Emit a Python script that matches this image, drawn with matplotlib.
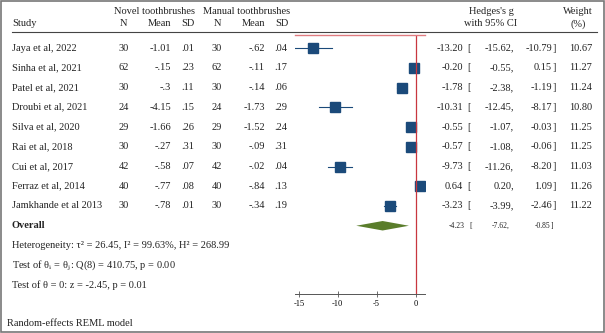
import matplotlib
matplotlib.use("Agg")
import matplotlib.pyplot as plt
import matplotlib.transforms as mtransforms
from matplotlib.lines import Line2D
from matplotlib.patches import Rectangle, Polygon
import numpy as np

plt.rcParams['font.family'] = ['Liberation Serif', 'DejaVu Serif']
plt.rcParams['mathtext.fontset'] = 'stix'

studies = ["Jaya et al, 2022", "Sinha et al, 2021", "Patel et al, 2021", "Droubi et al, 2021",
           "Silva et al, 2020", "Rai et al, 2018", "Cui et al, 2017", "Ferraz et al, 2014",
           "Jamkhande et al 2013"]
n_novel = [30, 62, 30, 24, 29, 30, 42, 40, 30]
mean_novel = ["-1.01", "-.15", "-.3", "-4.15", "-1.66", "-.27", "-.58", "-.77", "-.78"]
sd_novel = [".01", ".23", ".11", ".15", ".26", ".31", ".07", ".08", ".01"]
n_manual = [30, 62, 30, 24, 29, 30, 42, 40, 30]
mean_manual = ["-.62", "-.11", "-.14", "-1.73", "-1.52", "-.09", "-.02", "-.84", "-.34"]
sd_manual = [".04", ".17", ".06", ".29", ".24", ".31", ".04", ".13", ".19"]
g = [-13.20, -0.20, -1.78, -10.31, -0.55, -0.57, -9.73, 0.64, -3.23]
lo = [-15.62, -0.55, -2.38, -12.45, -1.07, -1.08, -11.26, 0.20, -3.99]
hi = [-10.79, 0.15, -1.19, -8.17, -0.03, -0.06, -8.20, 1.09, -2.46]
weight = [10.67, 11.27, 11.24, 10.80, 11.25, 11.25, 11.03, 11.26, 11.22]
overall = (-4.23, -7.62, -0.85)
ticks = [-15, -10, -5, 0]

W, H = 605, 333
fig = plt.figure(figsize=(W / 100, H / 100), dpi=100)

def fx(px):
    return px / W

def fy(py):
    return 1 - py / H

# forest axes (pixel box 295..425 x 34.5..294)
ax = fig.add_axes([fx(295), fy(294), fx(425) - fx(295), (294 - 34.5) / H])
ax.set_xlim(-15.5, 1.22)
ax.set_ylim(12.456, -0.684)
ax.set_facecolor('none')
for s in ['left', 'right']:
    ax.spines[s].set_visible(False)
ax.spines['top'].set_color('#e07b80')
ax.spines['top'].set_linewidth(1.0)
ax.spines['bottom'].set_color('#555555')
ax.spines['bottom'].set_linewidth(0.7)
ax.set_yticks([])
ax.set_xticks(ticks)
ax.set_xticklabels([str(t) for t in ticks], fontsize=6)
ax.tick_params(axis='x', direction='inout', length=4, width=0.6, color='#555555', pad=2)

navy = '#1b4a7a'
rows = np.arange(len(studies))
for i in rows:
    ax.plot([lo[i], hi[i]], [i, i], color=navy, lw=0.8)
    ax.plot(g[i], i, marker='s', ms=7.6 * np.sqrt(weight[i] / 11.0), color=navy, mec=navy)

oy = len(studies)
est, olo, ohi = overall
ax.add_patch(Polygon([[olo, oy], [est, oy - 0.24], [ohi, oy], [est, oy + 0.24]],
                     closed=True, color='#5a7d2b', lw=0))
ax.axvline(0, color='#c8373f', lw=0.9)

tr = mtransforms.blended_transform_factory(fig.transFigure, ax.transData)
fs = 7.5
kw = dict(transform=tr, fontsize=fs, va='center', color='#222222')
for i in rows:
    fig.text(fx(12), i, studies[i], ha='left', **kw)
    fig.text(fx(124), i, str(n_novel[i]), ha='center', **kw)
    fig.text(fx(171), i, mean_novel[i], ha='right', **kw)
    fig.text(fx(194), i, sd_novel[i], ha='right', **kw)
    fig.text(fx(217), i, str(n_manual[i]), ha='center', **kw)
    fig.text(fx(265), i, mean_manual[i], ha='right', **kw)
    fig.text(fx(287), i, sd_manual[i], ha='right', **kw)
    fig.text(fx(463), i, "%.2f" % g[i], ha='right', **kw)
    fig.text(fx(467), i, "[", ha='left', **kw)
    fig.text(fx(514), i, "%.2f," % lo[i], ha='right', **kw)
    fig.text(fx(552), i, "%.2f" % hi[i], ha='right', **kw)
    fig.text(fx(553), i, "]", ha='left', **kw)
    fig.text(fx(592), i, "%.2f" % weight[i], ha='right', **kw)

kw2 = dict(transform=tr, fontsize=5.5, va='center', color='#222222')
fig.text(fx(12), oy, "Overall", ha='left', fontweight='bold', **kw)
fig.text(fx(465), oy, "%.2f" % est, ha='right', **kw2)
fig.text(fx(469), oy, "[", ha='left', **kw2)
fig.text(fx(510), oy, "%.2f," % olo, ha='right', **kw2)
fig.text(fx(550), oy, "%.2f" % ohi, ha='right', **kw2)
fig.text(fx(551), oy, "]", ha='left', **kw2)

fig.text(fx(12), oy + 1, "Heterogeneity: \u03c4\u00b2 = 26.45, I\u00b2 = 99.63%, H\u00b2 = 268.99", ha='left', **kw)
fig.text(fx(12), oy + 2, r"Test of θ$_\mathrm{i}$ = θ$_\mathrm{j}$: Q(8) = 410.75, p = 0.00", ha='left', **kw)
fig.text(fx(12), oy + 3, "Test of θ = 0: z = -2.45, p = 0.01", ha='left', **kw)
fig.text(fx(7), fy(323), "Random-effects REML model", ha='left', va='center', fontsize=fs, color='#222222')

# headers
hk = dict(fontsize=fs, va='center', color='#222222')
fig.text(fx(155), fy(11), "Novel toothbrushes", ha='center', **hk)
fig.text(fx(247), fy(11), "Manual toothbrushes", ha='center', **hk)
fig.text(fx(12), fy(24), "Study", ha='left', **hk)
fig.text(fx(124), fy(24), "N", ha='center', **hk)
fig.text(fx(171), fy(24), "Mean", ha='right', **hk)
fig.text(fx(195), fy(24), "SD", ha='right', **hk)
fig.text(fx(217), fy(24), "N", ha='center', **hk)
fig.text(fx(265), fy(24), "Mean", ha='right', **hk)
fig.text(fx(288), fy(24), "SD", ha='right', **hk)
fig.text(fx(491), fy(11), "Hedges's g", ha='center', **hk)
fig.text(fx(491), fy(24), "with 95% CI", ha='center', **hk)
fig.text(fx(578), fy(11), "Weight", ha='center', **hk)
fig.text(fx(578), fy(24), "(%)", ha='center', **hk)

fig.add_artist(Line2D([fx(12), fx(597)], [fy(32), fy(32)], color='#444444', lw=0.8))
fig.add_artist(Rectangle((0.002, 0.003), 0.996, 0.994, transform=fig.transFigure,
                         fill=False, edgecolor='#777777', lw=1.2))

fig.savefig("out.png", dpi=100)
